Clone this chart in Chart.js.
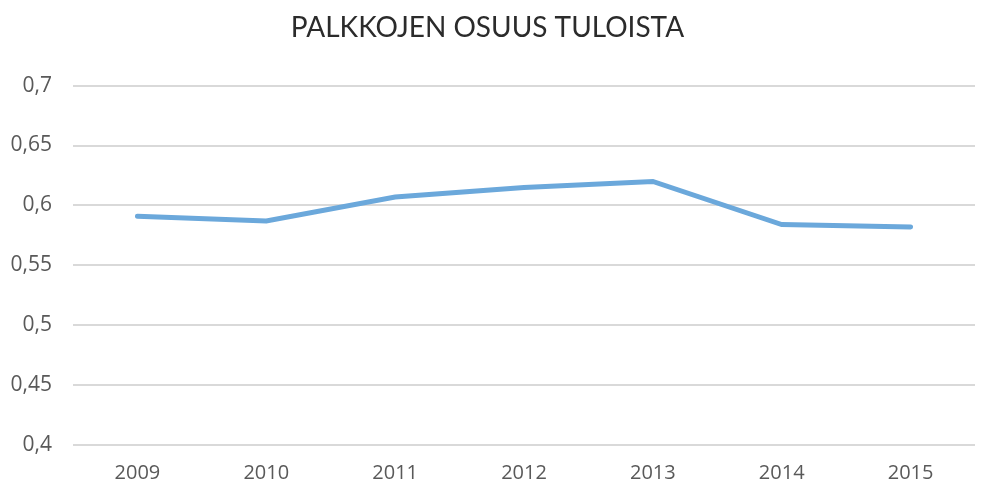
<!DOCTYPE html>
<html>
<head>
<meta charset="utf-8">
<script src="https://cdn.jsdelivr.net/npm/chart.js@4"></script>
<style>
  html, body { margin: 0; padding: 0; background: #fff; }
  #wrap { width: 981px; height: 486px; }
</style>
</head>
<body>
<div id="wrap"><canvas id="PalkatChart" width="981" height="486"></canvas></div>
<script>
const years = ['2009', '2010', '2011', '2012', '2013', '2014', '2015'];
const shareValues = [0.591, 0.587, 0.607, 0.615, 0.620, 0.584, 0.582];
const yMin = 0.4;
const yMax = 0.7;
const yStep = 0.05;

const fmt = (v) => (Math.round(v * 100) / 100).toString().replace('.', ',');

new Chart(document.getElementById('PalkatChart').getContext('2d'), {
  type: 'line',
  data: {
    labels: years,
    datasets: [
      {
        label: 'Palkkojen osuus',
        data: shareValues,
        borderColor: 'rgb(107, 168, 219)',
        borderWidth: 5,
        borderCapStyle: 'round',
        pointRadius: 0,
        tension: 0,
        fill: false,
      },
    ],
  },
  options: {
    responsive: false,
    animation: false,
    layout: { padding: { left: 0, right: 6, top: 10, bottom: 0 } },
    plugins: {
      legend: { display: false },
      tooltip: { enabled: false },
      title: {
        display: true,
        text: 'PALKKOJEN OSUUS TULOISTA',
        color: '#2b2b2b',
        font: { family: 'Lato', size: 28, weight: 'normal' },
        padding: { top: 1, bottom: 41 },
      },
    },
    scales: {
      x: {
        offset: true,
        grid: { display: false },
        border: { display: false },
        afterFit: (scale) => { scale.height -= 7; },
        ticks: {
          color: '#595959',
          font: { family: 'Open Sans', size: 20 },
          padding: 8,
          maxRotation: 0,
        },
      },
      y: {
        min: yMin,
        max: yMax,
        grid: { color: '#d9d9d9', lineWidth: 2, drawTicks: false },
        border: { display: false },
        afterFit: (scale) => { scale.width = 73; },
        ticks: {
          stepSize: yStep,
          color: '#595959',
          font: { family: 'Open Sans', size: 21 },
          padding: 21,
          callback: (v) => fmt(v),
        },
      },
    },
  },
});
</script>
</body>
</html>
